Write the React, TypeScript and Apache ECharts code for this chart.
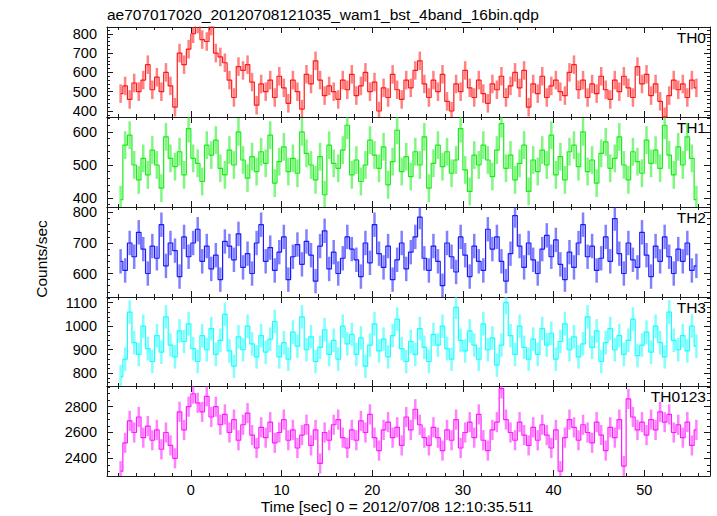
import React, { useEffect, useRef } from 'react';
import * as echarts from 'echarts';

// ---- data (0.5 s bins starting at t = -8 s) ----
const binStart = -8;
const binWidth = 0.5;

const th0Values = [
  490, 530, 460, 545, 500, 560, 640, 510, 575, 500, 600, 530, 420, 700, 640, 720,
  800, 850, 770, 760, 840, 700, 680, 650, 560, 470, 630, 610, 640, 550, 430, 540,
  500, 560, 470, 580, 520, 440, 560, 500, 410, 590, 540, 660, 560, 480, 530, 500,
  460, 560, 510, 590, 480, 530, 600, 500, 550, 400, 520, 470, 590, 510, 460, 560,
  520, 610, 660, 540, 470, 560, 500, 590, 450, 400, 540, 500, 610, 520, 470, 560,
  490, 440, 540, 510, 580, 470, 530, 600, 520, 610, 420, 540, 490, 580, 470, 530,
  560, 500, 480, 600, 640, 510, 560, 470, 540, 490, 580, 510, 460, 560, 500, 580,
  520, 470, 630, 540, 590, 480, 540, 450, 370, 480, 560, 510, 540, 470, 560, 520,
];
const th1Values = [
  395, 560, 590, 500, 455, 520, 470, 545, 500, 430, 585, 520, 495, 540, 470, 610,
  520, 505, 450, 560, 530, 575, 490, 470, 545, 500, 600, 515, 460, 525, 480, 540,
  505, 590, 445, 510, 555, 480, 520, 475, 600, 535, 500, 455, 525, 410, 560, 505,
  490, 545, 620, 470, 515, 450, 500, 575, 530, 490, 555, 440, 510, 605, 480, 525,
  465, 540, 500, 585, 430, 505, 560, 495, 540, 475, 515, 610, 485, 420, 530, 500,
  560, 515, 465, 545, 625, 490, 530, 455, 505, 560, 420, 515, 480, 545, 500, 590,
  470, 525, 455, 540, 560, 495, 600, 480, 515, 445, 535, 570, 490, 520, 585, 500,
  455, 540, 510, 475, 575, 505, 545, 490, 620, 530, 470, 555, 500, 585, 520, 395,
];
const th2Values = [
  640, 610, 700, 655, 735, 680, 600, 690, 650, 760, 625, 700, 675, 590, 720, 655,
  700, 745, 640, 690, 615, 660, 580, 705, 690, 645, 730, 620, 665, 600, 700, 760,
  640, 685, 610, 670, 720, 580, 655, 695, 630, 705, 660, 575, 690, 740, 615, 670,
  600, 650, 720, 680, 645, 590, 700, 635, 760, 665, 620, 690, 580, 645, 700, 615,
  670, 720, 785, 650, 610, 690, 640, 560, 700, 655, 605, 720, 660, 590, 690, 640,
  610, 745, 680, 720, 640, 575, 665, 790, 690, 620, 700, 645, 600, 680, 725, 655,
  710, 630, 580, 670, 620, 700, 760, 655, 690, 610, 650, 720, 640, 780, 665, 600,
  700, 645, 620, 735, 660, 590, 690, 640, 720, 655, 600, 680, 640, 700, 610, 625,
];
const th3Values = [
  785, 860, 1060, 930, 880, 1000, 905, 850, 960, 890, 1040, 920, 870, 980, 935, 1010,
  905, 850, 960, 900, 990, 880, 940, 1050, 895, 830, 955, 900, 1000, 925, 870, 960,
  890, 945, 1020, 870, 930, 860, 975, 915, 1040, 900, 955, 850, 910, 985, 880, 940,
  860, 1000, 925, 965, 880, 950, 830, 920, 1010, 895, 945, 870, 960, 1030, 905, 850,
  935, 880, 990, 910, 850, 965, 920, 1000, 905, 860, 1080, 940, 895, 980, 920, 860,
  1010, 900, 950, 835, 920, 1100, 960, 880, 1000, 910, 860, 945, 880, 990, 920, 970,
  860, 935, 1010, 900, 955, 870, 925, 1040, 910, 980, 850, 930, 990, 900, 960, 880,
  940, 1030, 875, 920, 975, 890, 1000, 930, 870, 1060, 940, 900, 960, 895, 1000, 915,
];
const th0123Values = [
  2300, 2520, 2690, 2600, 2720, 2560, 2650, 2540, 2620, 2470, 2600, 2500, 2400, 2760, 2620, 2800,
  2900, 2830, 2760, 2880, 2720, 2800, 2660, 2740, 2600, 2700, 2540, 2660, 2750, 2580, 2480, 2640,
  2560, 2680, 2520, 2600, 2700, 2540, 2620, 2480, 2580, 2660, 2500, 2620, 2360, 2600, 2540, 2660,
  2700, 2560, 2480, 2620, 2540, 2690, 2600, 2740, 2560, 2460, 2620, 2680, 2560, 2640, 2500, 2720,
  2620, 2780, 2660, 2560, 2500, 2640, 2560, 2460, 2620, 2540, 2700, 2480, 2600, 2680, 2560, 2740,
  2540, 2460, 2620, 2680, 2940, 2700, 2600, 2540, 2680, 2580, 2500, 2640, 2540, 2660, 2580, 2480,
  2620, 2300, 2560, 2700, 2640, 2540, 2660, 2600, 2520, 2680, 2580, 2460, 2640, 2560, 2700, 2340,
  2860, 2720, 2620, 2680, 2580, 2700, 2620, 2760, 2680, 2740, 2600, 2660, 2560, 2680, 2500, 2620,
];

// typical 1-sigma error per bin for each band
const errTH0 = 48;
const errTH1 = 42;
const errTH2 = 40;
const errTH3 = 50;
const errTH0123 = 78;

const panelNames = ['TH0', 'TH1', 'TH2', 'TH3', 'TH0123'];

// axis ranges / ticks
const xMin = -9.25;
const xMax = 57.25;
const xMajorTicks = [0, 10, 20, 30, 40, 50];
const xMinorStep = 2;

const yRanges = [
  [369, 835],
  [373, 645],
  [523, 818],
  [746, 1124],
  [2263, 2960],
];
const yMajorTicks = [
  [400, 500, 600, 700, 800],
  [400, 500, 600],
  [600, 700, 800],
  [800, 900, 1000, 1100],
  [2400, 2600, 2800],
];
const yMinorSteps = [20, 20, 20, 20, 50];

const FONT = '"Liberation Sans", Helvetica, Arial, sans-serif';
const AXIS_COLOR = '#1a1a1a';

function stepTicks(min: number, max: number, step: number, exclude: number[]) {
  const out: number[] = [];
  const start = Math.ceil(min / step) * step;
  for (let v = start; v <= max + 1e-9; v += step) {
    const r = Math.round(v * 1000) / 1000;
    if (!exclude.some((e) => Math.abs(e - r) < 1e-6)) out.push(r);
  }
  return out;
}

function buildOption() {
  const valueSets = [th0Values, th1Values, th2Values, th3Values, th0123Values];
  const errs = [errTH0, errTH1, errTH2, errTH3, errTH0123];
  const colors = ['#ff1a1a', '#1aee1a', '#1a1aff', '#1affff', '#ff1aff'];
  const gridTops = [27, 117, 207, 297, 386];
  const gridHeights = [90, 90, 90, 89, 90];

  const grid: any[] = [];
  const xAxis: any[] = [];
  const yAxis: any[] = [];
  const series: any[] = [];
  const graphic: any[] = [];

  const xMinor = stepTicks(xMin, xMax, xMinorStep, xMajorTicks);

  valueSets.forEach((vals, i) => {
    grid.push({ left: 107, width: 603, top: gridTops[i], height: gridHeights[i] });
    const [yMin, yMax] = yRanges[i];
    const yMajor = yMajorTicks[i].filter((v) => v >= yMin && v <= yMax);
    const yMinor = stepTicks(yMin, yMax, yMinorSteps[i], yMajorTicks[i]);

    const lineStyle = { color: AXIS_COLOR, width: 1 };
    const xBase = {
      type: 'value',
      gridIndex: i,
      min: xMin,
      max: xMax,
      splitLine: { show: false },
      axisLine: { show: true, onZero: false, lineStyle },
    };
    xAxis.push({
      ...xBase,
      position: 'bottom',
      axisTick: { show: true, inside: true, length: 6, customValues: xMajorTicks, lineStyle },
      axisLabel: {
        show: i === valueSets.length - 1,
        customValues: xMajorTicks,
        margin: 6,
        fontSize: 14.5,
        fontFamily: FONT,
        color: '#000',
        formatter: (v: number) => String(v),
      },
    });
    xAxis.push({
      ...xBase,
      position: 'top',
      axisTick: { show: true, inside: true, length: 6, customValues: xMajorTicks, lineStyle },
      axisLabel: { show: false },
    });
    xAxis.push({
      ...xBase,
      position: 'bottom',
      axisLine: { show: false, onZero: false },
      axisTick: { show: true, inside: true, length: 3, customValues: xMinor, lineStyle },
      axisLabel: { show: false },
    });
    xAxis.push({
      ...xBase,
      position: 'top',
      axisLine: { show: false, onZero: false },
      axisTick: { show: true, inside: true, length: 3, customValues: xMinor, lineStyle },
      axisLabel: { show: false },
    });

    const yBase = {
      type: 'value',
      gridIndex: i,
      min: yMin,
      max: yMax,
      splitLine: { show: false },
      axisLine: { show: true, onZero: false, lineStyle },
    };
    yAxis.push({
      ...yBase,
      position: 'left',
      axisTick: { show: true, inside: true, length: 6, customValues: yMajor, lineStyle },
      axisLabel: {
        show: true,
        customValues: yMajor,
        margin: 10,
        fontSize: 14.5,
        fontFamily: FONT,
        color: '#000',
        formatter: (v: number) => String(v),
      },
    });
    yAxis.push({
      ...yBase,
      position: 'right',
      axisTick: { show: true, inside: true, length: 6, customValues: yMajor, lineStyle },
      axisLabel: { show: false },
    });
    yAxis.push({
      ...yBase,
      position: 'left',
      axisLine: { show: false, onZero: false },
      axisTick: { show: true, inside: true, length: 3, customValues: yMinor, lineStyle },
      axisLabel: { show: false },
    });
    yAxis.push({
      ...yBase,
      position: 'right',
      axisLine: { show: false, onZero: false },
      axisTick: { show: true, inside: true, length: 3, customValues: yMinor, lineStyle },
      axisLabel: { show: false },
    });

    const color = colors[i];
    const err = errs[i];
    const pts = vals.map((v, k) => [binStart + binWidth * (k + 0.5), v]);
    const errData = vals.map((v, k) => [binStart + binWidth * (k + 0.5), v, err]);

    series.push({
      type: 'custom',
      name: panelNames[i] + ' err',
      xAxisIndex: 4 * i,
      yAxisIndex: 4 * i,
      clip: true,
      data: errData,
      renderItem: (params: any, api: any) => {
        const x = api.value(0);
        const y = api.value(1);
        const e = api.value(2);
        const p1 = api.coord([x, y - e]);
        const p2 = api.coord([x, y + e]);
        return {
          type: 'line',
          shape: { x1: p1[0], y1: p1[1], x2: p2[0], y2: p2[1] },
          style: { stroke: color, lineWidth: 2.5, opacity: 0.55 },
        };
      },
    });
    series.push({
      type: 'line',
      name: panelNames[i],
      xAxisIndex: 4 * i,
      yAxisIndex: 4 * i,
      data: pts,
      step: 'middle',
      showSymbol: false,
      symbol: 'none',
      clip: true,
      lineStyle: { color, width: 1.2 },
    });

    graphic.push({
      type: 'text',
      x: 706,
      y: gridTops[i] + 10,
      style: {
        text: panelNames[i],
        font: `15.5px ${FONT}`,
        fill: '#000',
        align: 'right',
        verticalAlign: 'middle',
      },
    });
  });

  graphic.push({
    type: 'text',
    x: 107,
    y: 14,
    style: {
      text: 'ae707017020_20120708121035_wam1_bst_4band_16bin.qdp',
      font: `15.5px ${FONT}`,
      fill: '#000',
      align: 'left',
      verticalAlign: 'middle',
    },
  });
  graphic.push({
    type: 'text',
    x: 41,
    y: 259,
    rotation: Math.PI / 2,
    style: {
      text: 'Counts/sec',
      font: `15.5px ${FONT}`,
      fill: '#000',
      align: 'center',
      verticalAlign: 'middle',
    },
  });
  graphic.push({
    type: 'text',
    x: 397,
    y: 506,
    style: {
      text: 'Time [sec] 0 = 2012/07/08 12:10:35.511',
      font: `15.5px ${FONT}`,
      fill: '#000',
      align: 'center',
      verticalAlign: 'middle',
    },
  });

  return {
    animation: false,
    backgroundColor: '#ffffff',
    grid,
    xAxis,
    yAxis,
    series,
    graphic,
  };
}

export default function App() {
  const ref = useRef<HTMLDivElement>(null);
  useEffect(() => {
    if (!ref.current) return;
    const chart = echarts.init(ref.current, null, { renderer: 'svg' });
    chart.setOption(buildOption() as any);
    return () => chart.dispose();
  }, []);
  return (
    <div
      ref={ref}
      style={{ position: 'fixed', left: 0, top: 0, width: 717, height: 516, background: '#fff' }}
    />
  );
}
